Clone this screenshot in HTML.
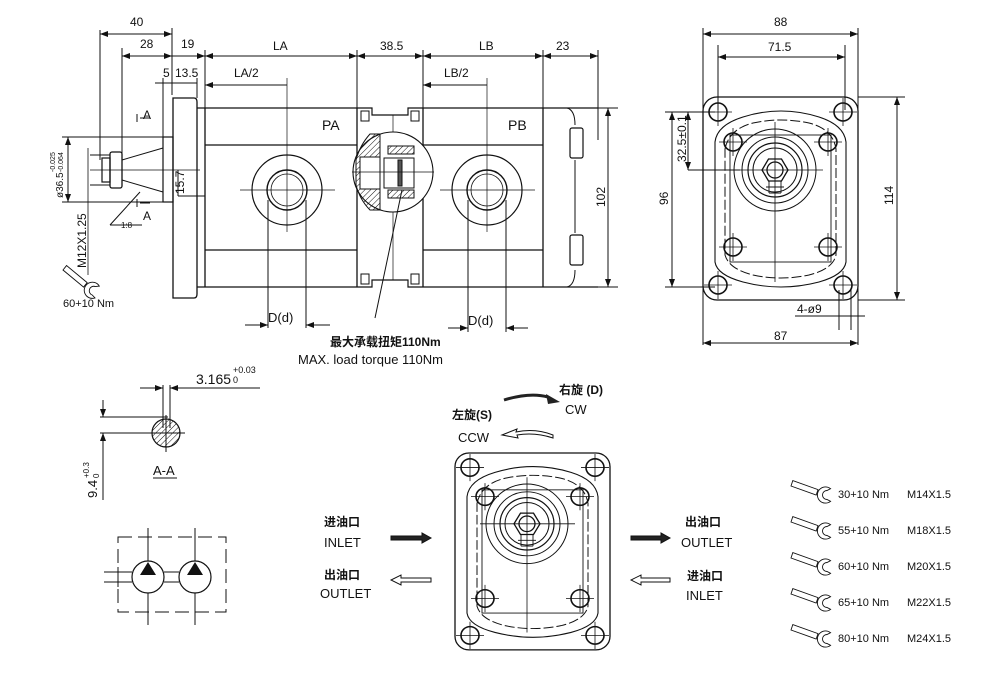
<!DOCTYPE html>
<html><head><meta charset="utf-8"><style>
html,body{margin:0;padding:0;background:#fff;width:999px;height:678px;overflow:hidden}
svg{display:block}
text{font-family:"Liberation Sans","Noto Sans CJK SC",sans-serif;fill:#111}
.n{font-family:"Liberation Sans Narrow","Liberation Sans",sans-serif;font-size:12px}
.b{font-weight:bold;font-size:12px}
</style></head><body>
<svg width="999" height="678" viewBox="0 0 999 678" xmlns="http://www.w3.org/2000/svg">
<defs>
<marker id="ar" markerWidth="8" markerHeight="6" refX="8" refY="3" orient="auto-start-reverse"><path d="M0,0 L8,3 L0,6 z" fill="#111"/></marker>
<pattern id="h" width="4" height="4" patternUnits="userSpaceOnUse" patternTransform="rotate(45)"><line x1="0" y1="0" x2="0" y2="4" stroke="#111" stroke-width="1"/></pattern>
<g id="hole"><circle r="9" fill="none" stroke="#111" stroke-width="1.6"/><line x1="-14" y1="0" x2="14" y2="0" stroke="#111" stroke-width=".8"/><line x1="0" y1="-14" x2="0" y2="14" stroke="#111" stroke-width=".8"/></g>
<g id="fv" fill="none" stroke="#111">
<rect x="0" y="0" width="155" height="203" rx="14" stroke-width="1.3"/>
<path d="M12,45 Q14,28 40,20 Q78,8 116,20 Q141,28 143,45 L143,165 Q141,178 116,185 Q78,195 40,185 Q14,178 12,165 Z" stroke-width="1.1"/>
<path d="M22,52 Q26,32 50,26 Q78,20 106,26 Q130,32 133,52 L133,158 Q130,172 106,178 Q78,184 50,178 Q26,172 22,158 Z" stroke-width="1" stroke-dasharray="10,3"/>
<rect x="27" y="38" width="101" height="127" stroke-width=".9"/>
<use href="#hole" x="15" y="15"/><use href="#hole" x="140" y="15"/><use href="#hole" x="15" y="188"/><use href="#hole" x="140" y="188"/>
<use href="#hole" x="30" y="45"/><use href="#hole" x="125" y="45"/><use href="#hole" x="30" y="150"/><use href="#hole" x="125" y="150"/>
<circle cx="72" cy="73" r="41" stroke-width="1"/><circle cx="72" cy="73" r="33" stroke-width="1"/><circle cx="72" cy="73" r="27" stroke-width="1.2"/><circle cx="72" cy="73" r="22" stroke-width="1"/>
<polygon points="85,73 78.5,84 65.5,84 59,73 65.5,62 78.5,62" stroke-width="1.3"/>
<circle cx="72" cy="73" r="8" stroke-width="1.3"/>
<path d="M63,90 L81,90 M66,84 L66,96 M78,84 L78,96 M66,96 L78,96" stroke-width=".9"/>
<line x1="72" y1="25" x2="72" y2="185" stroke-width=".8"/><line x1="25" y1="73" x2="120" y2="73" stroke-width=".8"/>
</g>
<g id="wr" fill="#fff" stroke="#111" stroke-width="1"><path d="M0,0 L2,-6 L30,4 L28,10 Z"/><path d="M44,3 A9,9 0 1 0 44,17 L40,15 A5,5 0 1 1 40,5 Z"/></g>
</defs>

<g stroke="#111" fill="none" stroke-width="1">
<path d="M100,30 L100,160 M172,28 L172,95 M122,48 L122,160 M205,50 L205,108 M357,50 L357,108 M423,50 L423,108 M543,50 L543,108 M598,50 L598,140"/>
<line x1="100" y1="34" x2="172" y2="34" marker-start="url(#ar)" marker-end="url(#ar)"/>
<line x1="122" y1="56" x2="172" y2="56" marker-start="url(#ar)" marker-end="url(#ar)"/>
<line x1="172" y1="56" x2="205" y2="56" marker-end="url(#ar)"/>
<line x1="205" y1="56" x2="357" y2="56" marker-start="url(#ar)" marker-end="url(#ar)"/>
<line x1="357" y1="56" x2="423" y2="56" marker-start="url(#ar)" marker-end="url(#ar)"/>
<line x1="423" y1="56" x2="543" y2="56" marker-start="url(#ar)" marker-end="url(#ar)"/>
<line x1="543" y1="56" x2="598" y2="56" marker-start="url(#ar)" marker-end="url(#ar)"/>
<line x1="155" y1="83" x2="197" y2="83"/><line x1="163" y1="78" x2="163" y2="137"/><line x1="197" y1="78" x2="197" y2="98"/>
<line x1="205" y1="85" x2="287" y2="85" marker-start="url(#ar)"/>
<line x1="423" y1="85" x2="487" y2="85" marker-start="url(#ar)"/>
<path d="M173,98 L194,98 Q197,98 197,102 L197,294 Q197,298 194,298 L173,298 Z" stroke-width="1.3"/>
<rect x="163" y="137" width="10" height="65" stroke-width="1.2"/>
<path d="M122,160 L163,148 M122,180 L163,192" stroke-width="1"/>
<rect x="110" y="152" width="12" height="36" rx="2" stroke-width="1.3"/>
<rect x="102" y="158" width="8" height="24" stroke-width="1.2"/>
<line x1="90" y1="170" x2="200" y2="170" stroke-width=".7"/>
<line x1="90" y1="155" x2="110" y2="155"/><line x1="90" y1="185" x2="110" y2="185"/>
<path d="M88,148 L88,275" stroke-width=".8"/>
<line x1="62" y1="137" x2="163" y2="137"/><line x1="62" y1="202" x2="163" y2="202"/>
<line x1="68" y1="137" x2="68" y2="202" marker-start="url(#ar)" marker-end="url(#ar)"/>
<path d="M140,118 L150,118 M140,203 L150,203 M137,114 L137,122 M137,199 L137,207"/>
<path d="M110,225 L140,192 M110,225 L142,225"/>
<line x1="178" y1="170" x2="178" y2="196"/><line x1="178" y1="196" x2="205" y2="196"/>
<path d="M197,108 L357,108 M205,108 L205,287 M197,287 L357,287 M205,145 L357,145 M205,250 L357,250" stroke-width="1.3"/>
<circle cx="287" cy="190" r="35" stroke-width="1.2"/><circle cx="287" cy="190" r="20" stroke-width="1.4"/><circle cx="287" cy="190" r="16" stroke-width=".8"/>
<line x1="287" y1="78" x2="287" y2="232" stroke-width=".7"/><line x1="240" y1="190" x2="335" y2="190" stroke-width=".7"/>
<line x1="268" y1="200" x2="268" y2="328"/><line x1="306" y1="200" x2="306" y2="328"/>
<line x1="245" y1="325" x2="268" y2="325" marker-end="url(#ar)"/><line x1="330" y1="325" x2="306" y2="325" marker-end="url(#ar)"/>
<path d="M357,108 L357,287 M423,108 L423,287" stroke-width="1.3"/>
<path d="M357,108 L372,108 L372,115 L408,115 L408,108 L423,108 M357,287 L372,287 L372,280 L408,280 L408,287 L423,287" stroke-width="1.2"/>
<rect x="361" y="111" width="8" height="10"/><rect x="411" y="111" width="8" height="10"/>
<rect x="361" y="274" width="8" height="10"/><rect x="411" y="274" width="8" height="10"/>
<line x1="393" y1="115" x2="393" y2="280" stroke-width=".7"/>
<circle cx="393" cy="172" r="40" fill="#fff" stroke-width="1.1"/>
<path d="M380,134 L380,210 L370,210 Q360,200 356,185 L356,160 Q360,145 370,134 Z" fill="url(#h)" stroke-width="1"/>
<rect x="360" y="157" width="20" height="32" fill="#fff"/>
<rect x="388" y="146" width="26" height="8" fill="url(#h)"/><rect x="388" y="190" width="26" height="8" fill="url(#h)"/>
<rect x="384" y="158" width="30" height="30" fill="#fff"/><rect x="398" y="160" width="4" height="26" fill="#555"/>
<line x1="352" y1="172" x2="434" y2="172" stroke-width=".7"/>
<line x1="375" y1="318" x2="402" y2="190" stroke-width="1"/>
<path d="M423,108 L598,108 M423,287 L598,287 M423,145 L543,145 M423,250 L543,250 M543,108 L543,287" stroke-width="1.3"/>
<path d="M567,108 Q575,110 575,125 M567,287 Q575,285 575,270 M575,160 L575,233"/>
<rect x="570" y="128" width="13" height="30" rx="2" stroke-width="1.2"/><rect x="570" y="235" width="13" height="30" rx="2" stroke-width="1.2"/>
<circle cx="487" cy="190" r="35" stroke-width="1.2"/><circle cx="487" cy="190" r="20" stroke-width="1.4"/><circle cx="487" cy="190" r="16" stroke-width=".8"/>
<line x1="487" y1="78" x2="487" y2="232" stroke-width=".7"/><line x1="440" y1="190" x2="535" y2="190" stroke-width=".7"/>
<line x1="468" y1="200" x2="468" y2="332"/><line x1="506" y1="200" x2="506" y2="332"/>
<line x1="448" y1="328" x2="468" y2="328" marker-end="url(#ar)"/><line x1="528" y1="328" x2="506" y2="328" marker-end="url(#ar)"/>
<line x1="598" y1="287" x2="618" y2="287"/><line x1="598" y1="108" x2="618" y2="108"/>
<line x1="608" y1="108" x2="608" y2="287" marker-start="url(#ar)" marker-end="url(#ar)"/>
</g>
<use href="#wr" transform="translate(63,270) rotate(20) scale(0.9)"/>

<g class="n">
<text x="130" y="26">40</text><text x="140" y="48">28</text><text x="181" y="48">19</text>
<text x="273" y="50">LA</text><text x="380" y="50">38.5</text><text x="479" y="50">LB</text><text x="556" y="50">23</text>
<text x="163" y="77">5</text><text x="175" y="77">13.5</text><text x="234" y="77">LA/2</text><text x="444" y="77">LB/2</text>
<text x="322" y="130" font-size="14">PA</text><text x="508" y="130" font-size="14">PB</text>
<text x="268" y="322" font-size="13">D(d)</text><text x="468" y="325" font-size="13">D(d)</text>
<text x="143" y="119">A</text><text x="143" y="220">A</text>
<text x="121" y="228" font-size="8">1:8</text>
<text x="63" y="307" font-size="11">60+10 Nm</text>
<text transform="translate(605,207) rotate(-90)">102</text>
<text transform="translate(184,194) rotate(-90)">15.7</text>
<text transform="translate(86,268) rotate(-90)">M12X1.25</text>
<text transform="translate(63,198) rotate(-90)" font-size="10">ø36.5</text>
<text transform="translate(55,172) rotate(-90)" font-size="7">-0.025</text>
<text transform="translate(63,172) rotate(-90)" font-size="7">-0.064</text>
<text x="330" y="346" class="b">最大承载扭矩110Nm</text>
<text x="298" y="364" font-size="13">MAX. load torque 110Nm</text>
</g>

<g stroke="#111" fill="none" stroke-width="1">
<path d="M703,28 L703,345 M858,28 L858,345 M718,45 L718,110 M845,45 L845,110"/>
<line x1="703" y1="34" x2="858" y2="34" marker-start="url(#ar)" marker-end="url(#ar)"/>
<line x1="718" y1="57" x2="845" y2="57" marker-start="url(#ar)" marker-end="url(#ar)"/>
<line x1="703" y1="343" x2="858" y2="343" marker-start="url(#ar)" marker-end="url(#ar)"/>
<line x1="858" y1="97" x2="905" y2="97"/><line x1="858" y1="300" x2="905" y2="300"/>
<line x1="897" y1="97" x2="897" y2="300" marker-start="url(#ar)" marker-end="url(#ar)"/>
<line x1="665" y1="112" x2="715" y2="112"/><line x1="665" y1="287" x2="715" y2="287"/>
<line x1="672" y1="112" x2="672" y2="287" marker-start="url(#ar)" marker-end="url(#ar)"/>
<line x1="688" y1="112" x2="688" y2="170" marker-start="url(#ar)" marker-end="url(#ar)"/>
<line x1="688" y1="170" x2="740" y2="170"/>
<path d="M839,290 L839,330 M851,290 L851,330 M795,316 L865,316"/>
</g>
<use href="#fv" transform="translate(703,97)"/>
<g class="n"><text x="774" y="26">88</text><text x="768" y="51">71.5</text><text x="774" y="340">87</text>
<text x="797" y="313">4-ø9</text>
<text transform="translate(893,205) rotate(-90)">114</text>
<text transform="translate(668,205) rotate(-90)">96</text>
<text transform="translate(686,162) rotate(-90)">32.5±0.1</text></g>

<g stroke="#111" fill="none" stroke-width="1">
<line x1="140" y1="388" x2="163" y2="388" marker-end="url(#ar)"/><line x1="180" y1="388" x2="170" y2="388" marker-end="url(#ar)"/>
<line x1="170" y1="388" x2="260" y2="388"/>
<path d="M163,385 L163,428 M170,385 L170,428"/>
<circle cx="166" cy="433" r="14" fill="url(#h)" stroke-width="1.2"/>
<path d="M100,417 L168,417 M100,433 L185,433 M166,415 L166,452"/>
<line x1="103" y1="400" x2="103" y2="417" marker-end="url(#ar)"/>
<line x1="103" y1="500" x2="103" y2="433" marker-end="url(#ar)"/>
<line x1="153" y1="478" x2="177" y2="478"/>
</g>
<g class="n"><text x="196" y="384" font-size="14">3.165</text><text x="233" y="373" font-size="9">+0.03</text><text x="233" y="383" font-size="9">0</text>
<text x="153" y="475" font-size="13">A-A</text>
<text transform="translate(97,498) rotate(-90)" font-size="13">9.4</text>
<text transform="translate(89,478) rotate(-90)" font-size="8">+0.3</text>
<text transform="translate(99,478) rotate(-90)" font-size="8">0</text></g>

<g stroke="#111" fill="none" stroke-width="1">
<rect x="118" y="537" width="108" height="75" stroke-dasharray="14,6"/>
<path d="M148,528 L148,561 M148,593 L148,625 M195,528 L195,561 M195,593 L195,625"/>
<path d="M104,572 L132,572 M104,582 L132,582 M164,572 L179,572 M164,582 L179,582 M118,567 L118,587"/>
<circle cx="148" cy="577" r="16" fill="#fff" stroke-width="1.2"/><circle cx="195" cy="577" r="16" fill="#fff" stroke-width="1.2"/>
</g>
<path d="M148,562 L140,575 L156,575 Z M195,562 L187,575 L203,575 Z" fill="#111"/>

<g transform="translate(455,453) scale(1,0.97)"><use href="#fv"/></g>
<path d="M504,400 Q530,392 548,397" stroke="#222" stroke-width="3" fill="none"/>
<path d="M560,402 L546,394 L548,404 Z" fill="#222"/>
<path d="M553,435 Q535,428 516,432 L517,429 L502,435 L518,438 L517,435 Q535,432 553,438 Z" fill="#fff" stroke="#111"/>
<g class="n"><text x="559" y="394" class="b">右旋 (D)</text><text x="565" y="414" font-size="13">CW</text>
<text x="452" y="419" class="b">左旋(S)</text><text x="458" y="442" font-size="13">CCW</text>
<text x="324" y="526" class="b">进油口</text><text x="324" y="547" font-size="13">INLET</text>
<text x="324" y="579" class="b">出油口</text><text x="320" y="598" font-size="13">OUTLET</text>
<text x="685" y="526" class="b">出油口</text><text x="681" y="547" font-size="13">OUTLET</text>
<text x="687" y="580" class="b">进油口</text><text x="686" y="600" font-size="13">INLET</text></g>
<g stroke="#111">
<path d="M391,536 L422,536 L422,533 L431,538 L422,543 L422,540 L391,540 Z" fill="#222"/>
<path d="M631,536 L661,536 L661,533 L670,538 L661,543 L661,540 L631,540 Z" fill="#222"/>
<path d="M431,578 L401,578 L401,575 L391,580 L401,585 L401,582 L431,582 Z" fill="#fff"/>
<path d="M670,578 L641,578 L641,575 L631,580 L641,585 L641,582 L670,582 Z" fill="#fff"/>
</g>

<g><use href="#wr" transform="translate(791,486) scale(0.9)"/><use href="#wr" transform="translate(791,522) scale(0.9)"/><use href="#wr" transform="translate(791,558) scale(0.9)"/><use href="#wr" transform="translate(791,594) scale(0.9)"/><use href="#wr" transform="translate(791,630) scale(0.9)"/></g>
<g font-size="11" style="font-family:'Liberation Sans',sans-serif">
<text x="838" y="498">30+10 Nm</text><text x="907" y="498">M14X1.5</text>
<text x="838" y="534">55+10 Nm</text><text x="907" y="534">M18X1.5</text>
<text x="838" y="570">60+10 Nm</text><text x="907" y="570">M20X1.5</text>
<text x="838" y="606">65+10 Nm</text><text x="907" y="606">M22X1.5</text>
<text x="838" y="642">80+10 Nm</text><text x="907" y="642">M24X1.5</text>
</g>
</svg>
</body></html>
